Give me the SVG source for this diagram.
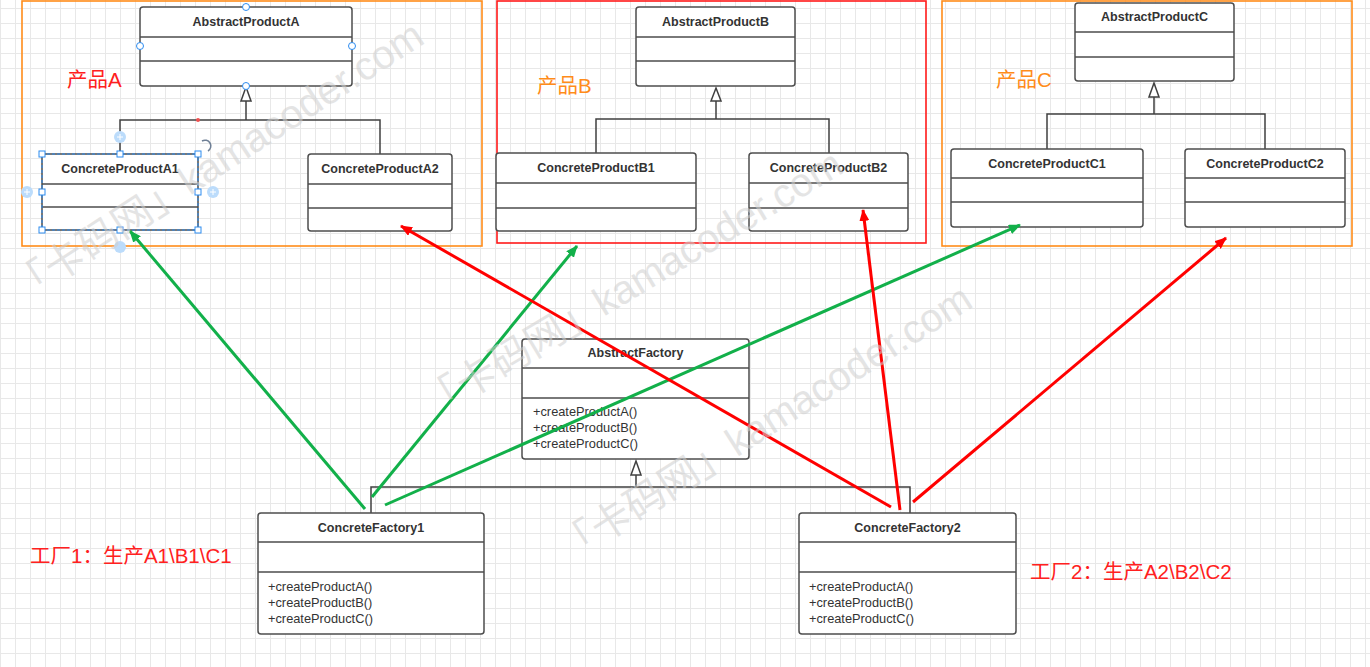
<svg xmlns="http://www.w3.org/2000/svg" width="1370" height="667" viewBox="0 0 1370 667">
<defs>
<pattern id="grid" x="0" y="8" width="15" height="15" patternUnits="userSpaceOnUse">
<path d="M0.5,0 V15 M0,0.5 H15" fill="none" stroke="#e8e8e8" stroke-width="1"/>
</pattern>
<marker id="ag" viewBox="0 0 12 10" refX="11" refY="5" markerWidth="12" markerHeight="10" markerUnits="userSpaceOnUse" orient="auto">
<path d="M0,0 L12,5 L0,10 z" fill="#12b04a"/>
</marker>
<marker id="ar" viewBox="0 0 12 10" refX="11" refY="5" markerWidth="12" markerHeight="10" markerUnits="userSpaceOnUse" orient="auto">
<path d="M0,0 L12,5 L0,10 z" fill="#ff0000"/>
</marker>
<style>
.box{fill:#fff;stroke:#4d4d4d;stroke-width:1.5}
.div{stroke:#4d4d4d;stroke-width:1.5}
.title{font-family:"Liberation Sans",Arial,sans-serif;font-size:12.5px;font-weight:bold;fill:#333;text-anchor:middle}
.m{font-family:"Liberation Sans",Arial,sans-serif;font-size:12.8px;fill:#333}
.inh{fill:none;stroke:#404040;stroke-width:1.5}
.tri{fill:#fff;stroke:#404040;stroke-width:1.5}
.cont{fill:none;stroke-width:1.6}
.lbl{font-family:"Liberation Sans","Noto Sans CJK SC",sans-serif;font-size:20.5px}
.g{fill:none;stroke:#12b04a;stroke-width:3}
.r{fill:none;stroke:#ff0000;stroke-width:3}
.wm{font-family:"Liberation Sans","Noto Sans CJK SC",sans-serif;font-size:40px;fill:#cfcfcf;opacity:0.55}
.h{fill:#fff;stroke:#2d8cf0;stroke-width:1}
.hp{fill:#bcdcfb;stroke:none}
</style>
</defs>
<rect width="1370" height="667" fill="#fff"/>
<rect width="1370" height="667" fill="url(#grid)"/>

<!-- containers -->
<g id="containers">
<rect class="cont" x="22" y="1" width="460" height="245" stroke="#ff8c1a"/>
<rect class="cont" x="497" y="1" width="429" height="242" stroke="#ff1a1a"/>
<rect class="cont" x="942" y="1" width="410" height="245" stroke="#ff8c1a"/>
<text class="lbl" x="67" y="87" fill="#ff2020">产品A</text>
<text class="lbl" x="537" y="93" fill="#ff8c1a">产品B</text>
<text class="lbl" x="996" y="87" fill="#ff8c1a">产品C</text>
<text class="lbl" x="30" y="563" fill="#ff2020">工厂1：生产A1\B1\C1</text>
<text class="lbl" x="1030" y="579" fill="#ff2020">工厂2：生产A2\B2\C2</text>
</g>

<!-- inheritance connectors -->
<g id="inheritance">
<path class="inh" d="M246,101 V120 M120,154 V120 H380 V154"/>
<path class="tri" d="M246,87 L251,101 L241,101 z"/>
<path class="inh" d="M716,101 V119 M596,153 V119 H829 V153"/>
<path class="tri" d="M716,88 L721,101 L711,101 z"/>
<path class="inh" d="M1154,97 V114 M1047,149 V114 H1265 V149"/>
<path class="tri" d="M1154,83 L1159,97 L1149,97 z"/>
<path class="inh" d="M636,475 V487 M371,513 V487 H910 V513"/>
<path class="tri" d="M636,461 L641,475 L631,475 z"/>
<circle cx="198" cy="120" r="2" fill="#f05050"/>
</g>

<!-- nodes -->
<g id="AbstractProductA">
<rect class="box" x="140" y="7" width="212" height="79" rx="3"/>
<line class="div" x1="140" y1="37" x2="352" y2="37"/>
<line class="div" x1="140" y1="61" x2="352" y2="61"/>
<text class="title" x="246" y="26">AbstractProductA</text>
</g>
<g id="ConcreteProductA1">
<rect class="box" x="42" y="154" width="156" height="76" rx="2"/>
<line class="div" x1="42" y1="184" x2="198" y2="184"/>
<line class="div" x1="42" y1="207" x2="198" y2="207"/>
<text class="title" x="120" y="173">ConcreteProductA1</text>
</g>
<g id="ConcreteProductA2">
<rect class="box" x="308" y="154" width="144" height="77" rx="3"/>
<line class="div" x1="308" y1="184" x2="452" y2="184"/>
<line class="div" x1="308" y1="208" x2="452" y2="208"/>
<text class="title" x="380" y="173">ConcreteProductA2</text>
</g>
<g id="AbstractProductB">
<rect class="box" x="636" y="7" width="159" height="79" rx="3"/>
<line class="div" x1="636" y1="37" x2="795" y2="37"/>
<line class="div" x1="636" y1="61" x2="795" y2="61"/>
<text class="title" x="715.5" y="26">AbstractProductB</text>
</g>
<g id="ConcreteProductB1">
<rect class="box" x="496" y="153" width="200" height="78" rx="3"/>
<line class="div" x1="496" y1="183" x2="696" y2="183"/>
<line class="div" x1="496" y1="208" x2="696" y2="208"/>
<text class="title" x="596" y="172">ConcreteProductB1</text>
</g>
<g id="ConcreteProductB2">
<rect class="box" x="749" y="153" width="159" height="78" rx="3"/>
<line class="div" x1="749" y1="183" x2="908" y2="183"/>
<line class="div" x1="749" y1="208" x2="908" y2="208"/>
<text class="title" x="828.5" y="172">ConcreteProductB2</text>
</g>
<g id="AbstractProductC">
<rect class="box" x="1075" y="3" width="159" height="78" rx="3"/>
<line class="div" x1="1075" y1="32" x2="1234" y2="32"/>
<line class="div" x1="1075" y1="57" x2="1234" y2="57"/>
<text class="title" x="1154.5" y="21">AbstractProductC</text>
</g>
<g id="ConcreteProductC1">
<rect class="box" x="951" y="149" width="192" height="78" rx="3"/>
<line class="div" x1="951" y1="178" x2="1143" y2="178"/>
<line class="div" x1="951" y1="202" x2="1143" y2="202"/>
<text class="title" x="1047" y="168">ConcreteProductC1</text>
</g>
<g id="ConcreteProductC2">
<rect class="box" x="1185" y="149" width="160" height="78" rx="3"/>
<line class="div" x1="1185" y1="178" x2="1345" y2="178"/>
<line class="div" x1="1185" y1="202" x2="1345" y2="202"/>
<text class="title" x="1265" y="168">ConcreteProductC2</text>
</g>
<g id="AbstractFactory">
<rect class="box" x="522" y="339" width="227" height="120" rx="3"/>
<line class="div" x1="522" y1="368" x2="749" y2="368"/>
<line class="div" x1="522" y1="398" x2="749" y2="398"/>
<text class="title" x="635.5" y="357">AbstractFactory</text>
<text class="m" x="533" y="416">+createProductA()</text>
<text class="m" x="533" y="432">+createProductB()</text>
<text class="m" x="533" y="448">+createProductC()</text>
</g>
<g id="ConcreteFactory1">
<rect class="box" x="258" y="513" width="226" height="121" rx="3"/>
<line class="div" x1="258" y1="542" x2="484" y2="542"/>
<line class="div" x1="258" y1="572" x2="484" y2="572"/>
<text class="title" x="371" y="532">ConcreteFactory1</text>
<text class="m" x="268" y="591">+createProductA()</text>
<text class="m" x="268" y="607">+createProductB()</text>
<text class="m" x="268" y="623">+createProductC()</text>
</g>
<g id="ConcreteFactory2">
<rect class="box" x="799" y="513" width="217" height="121" rx="3"/>
<line class="div" x1="799" y1="542" x2="1016" y2="542"/>
<line class="div" x1="799" y1="572" x2="1016" y2="572"/>
<text class="title" x="907.5" y="532">ConcreteFactory2</text>
<text class="m" x="809" y="591">+createProductA()</text>
<text class="m" x="809" y="607">+createProductB()</text>
<text class="m" x="809" y="623">+createProductC()</text>
</g>

<!-- selection decorations -->
<g id="selection">
<rect x="42" y="154" width="156" height="76" fill="none" stroke="#2d8cf0" stroke-width="1" stroke-dasharray="3,2"/>
<rect class="h" x="39" y="151" width="6" height="6"/>
<rect class="h" x="117" y="151" width="6" height="6"/>
<rect class="h" x="195" y="151" width="6" height="6"/>
<rect class="h" x="39" y="189" width="6" height="6"/>
<rect class="h" x="195" y="189" width="6" height="6"/>
<rect class="h" x="39" y="227" width="6" height="6"/>
<rect class="h" x="117" y="227" width="6" height="6"/>
<rect class="h" x="195" y="227" width="6" height="6"/>
<circle class="hp" cx="120" cy="137" r="6"/>
<circle class="hp" cx="27" cy="192" r="6"/>
<circle class="hp" cx="213" cy="192" r="6"/>
<circle class="hp" cx="120" cy="247" r="6"/>
<path d="M117,137 h6 M120,134 v6 M24,192 h6 M27,189 v6 M210,192 h6 M213,189 v6" stroke="#fff" stroke-width="1"/>
<path d="M202,141 A5,5 0 0 1 208,151" fill="none" stroke="#6e7f95" stroke-width="1.5"/>
<circle class="h" cx="246" cy="7" r="3.5"/>
<circle class="h" cx="140" cy="46" r="3.5"/>
<circle class="h" cx="352" cy="46" r="3.5"/>
<circle class="h" cx="246" cy="86" r="3.5"/>
</g>

<!-- connectors -->
<g id="connectors">
<line class="g" x1="365" y1="509" x2="130" y2="231" marker-end="url(#ag)"/>
<line class="g" x1="372" y1="497" x2="577" y2="246" marker-end="url(#ag)"/>
<line class="g" x1="385" y1="505" x2="1020" y2="225" marker-end="url(#ag)"/>
<line class="r" x1="891" y1="507" x2="401" y2="226" marker-end="url(#ar)"/>
<line class="r" x1="900" y1="510" x2="863" y2="210" marker-end="url(#ar)"/>
<line class="r" x1="913" y1="502" x2="1226" y2="238" marker-end="url(#ar)"/>
</g>

<!-- watermark -->
<g id="watermark">
<text class="wm" transform="translate(22,305) rotate(-33)">「卡码网」kamacoder.com</text>
<text class="wm" transform="translate(432,420) rotate(-31)">「卡码网」kamacoder.com</text>
<text class="wm" transform="translate(568,565) rotate(-32.5)">「卡码网」kamacoder.com</text>
</g>
</svg>
